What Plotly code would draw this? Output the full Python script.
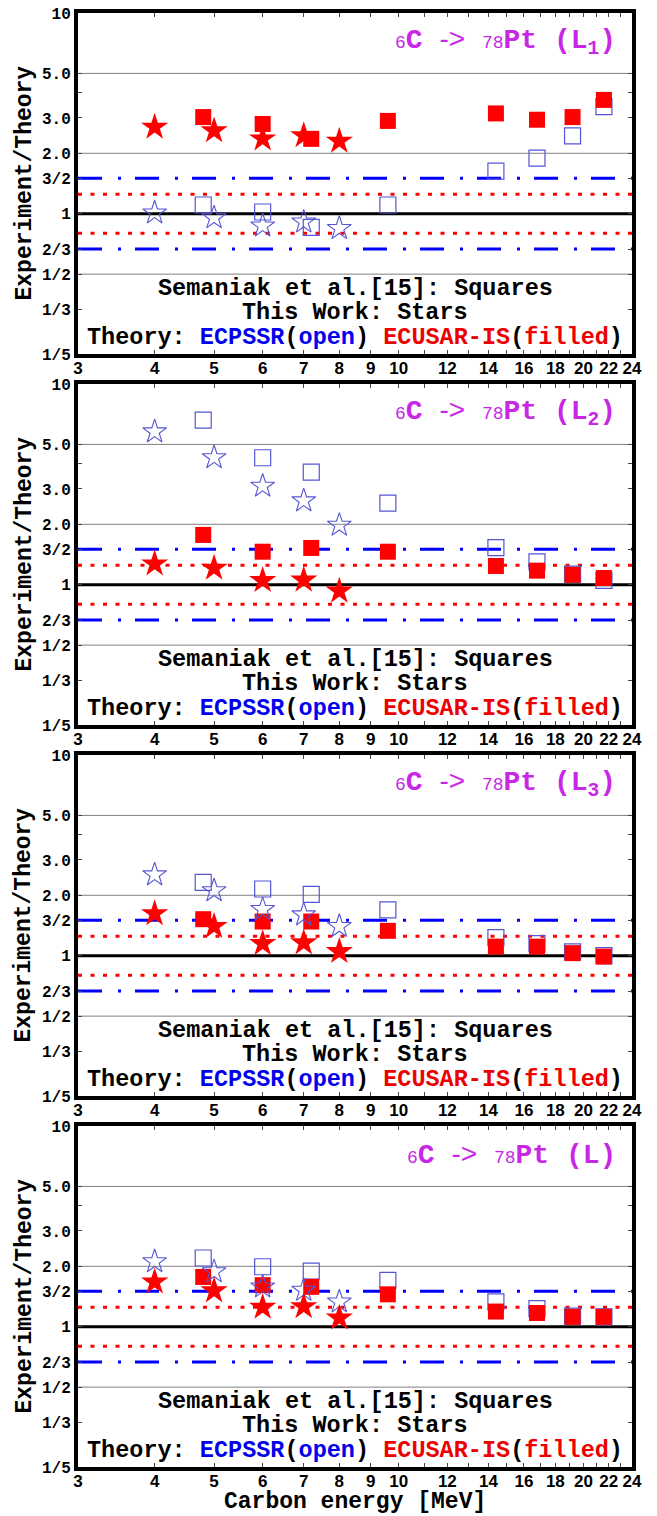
import math
import plotly.graph_objects as go

# ---------------- data ----------------
x_stars = [4, 5, 6, 7, 8]
x_squares = [4.8, 6.0, 7.2, 9.6, 14.4, 16.8, 19.2, 21.6]

panel_labels = ["L<sub>1</sub>", "L<sub>2</sub>", "L<sub>3</sub>", "L"]

# This work (stars) / theory
stars_ecpssr_L1 = [1.01, 0.955, 0.87, 0.91, 0.845]
stars_ecusar_L1 = [2.70, 2.59, 2.36, 2.45, 2.30]
sq_ecpssr_L1 = [1.105, 1.02, 0.855, 1.105, 1.63, 1.89, 2.44, 3.42]
sq_ecusar_L1 = [3.03, 2.80, 2.36, 2.90, 3.16, 2.94, 3.03, 3.69]

stars_ecpssr_L2 = [5.78, 4.30, 3.10, 2.62, 1.98]
stars_ecusar_L2 = [1.27, 1.21, 1.05, 1.055, 0.93]
sq_ecpssr_L2 = [6.60, 4.29, 3.64, 2.55, 1.53, 1.30, 1.13, 1.05]
sq_ecusar_L2 = [1.77, 1.46, 1.525, 1.46, 1.24, 1.175, 1.12, 1.08]

stars_ecpssr_L3 = [2.53, 2.11, 1.70, 1.60, 1.40]
stars_ecusar_L3 = [1.62, 1.40, 1.15, 1.16, 1.05]
sq_ecpssr_L3 = [2.32, 2.15, 2.02, 1.69, 1.23, 1.15, 1.045, 1.00]
sq_ecusar_L3 = [1.52, 1.48, 1.48, 1.33, 1.11, 1.11, 1.03, 0.99]

stars_ecpssr_L = [2.11, 1.88, 1.58, 1.52, 1.33]
stars_ecusar_L = [1.67, 1.51, 1.25, 1.26, 1.105]
sq_ecpssr_L = [2.20, 1.99, 1.89, 1.70, 1.33, 1.23, 1.13, 1.12]
sq_ecusar_L = [1.77, 1.61, 1.58, 1.45, 1.19, 1.17, 1.12, 1.12]

panels = [
    (stars_ecpssr_L1, stars_ecusar_L1, sq_ecpssr_L1, sq_ecusar_L1),
    (stars_ecpssr_L2, stars_ecusar_L2, sq_ecpssr_L2, sq_ecusar_L2),
    (stars_ecpssr_L3, stars_ecusar_L3, sq_ecpssr_L3, sq_ecusar_L3),
    (stars_ecpssr_L, stars_ecusar_L, sq_ecpssr_L, sq_ecusar_L),
]

y_tickvals = [0.2, 1 / 3, 0.5, 2 / 3, 1, 1.5, 2, 3, 4, 5, 10]
y_ticktext = ["1/5", "1/3", "1/2", "2/3", "1", "3/2", "2.0", "3.0", "", "5.0", "10"]
x_tickvals = list(range(3, 25))
x_labeled = [3, 4, 5, 6, 7, 8, 9, 10, 12, 14, 16, 18, 20, 22, 24]
x_ticktext = [str(v) if v in x_labeled else "" for v in x_tickvals]

grid_vals = [5, 2, 0.5]
ecusar_band = [1.25, 0.8]
ecpssr_band = [1.5, 2 / 3]

# ---------------- style ----------------
# page body has an 8px margin; the figure is sized/offset to compensate
OFF = 8
W, H = 657 - OFF, 1516 - OFF
ML, MR, MT, MB = 78 - OFF, 25, 13 - OFF, 49
PH = H - MT - MB
panel_tops = [13, 384, 755, 1126]   # page pixels
panel_h = 341

RED = "#ff0000"
BLUE_OPEN = "#5555d5"
BLUE_LINE = "#0000ff"
MAGENTA = "rgb(200,40,230)"
MONO = "Liberation Mono, Courier New, monospace"

fig = go.Figure()
layout = dict(
    width=W, height=H,
    margin=dict(l=ML, r=MR, t=MT, b=MB, autoexpand=False),
    paper_bgcolor="white", plot_bgcolor="white",
    showlegend=False,
)
annotations = []
PW = W - ML - MR

for i, (st_e, st_u, sq_e, sq_u) in enumerate(panels):
    n = "" if i == 0 else str(i + 1)
    xr, yr = "x" + n, "y" + n
    top = panel_tops[i] - OFF
    bot = top + panel_h
    dom = [(H - MB - bot) / PH, (H - MB - top) / PH]

    layout["xaxis" + n] = dict(
        type="log", range=[math.log10(3), math.log10(24)], domain=[0, 1],
        anchor=yr, tickvals=x_tickvals, ticktext=x_ticktext,
        ticks="inside", ticklen=4, tickwidth=1, tickcolor="#444",
        mirror="allticks", showline=True, linewidth=4, linecolor="black",
        showgrid=False, zeroline=False, ticklabelstandoff=-4,
        tickfont=dict(family="Liberation Sans Narrow, Liberation Sans, Arial", size=17,
                      color="black", weight="bold"),
    )
    layout["yaxis" + n] = dict(
        type="log", range=[math.log10(0.2), 1], domain=dom,
        anchor=xr, tickvals=y_tickvals, ticktext=y_ticktext,
        ticks="inside", ticklen=4, tickwidth=1, tickcolor="#444",
        mirror="allticks", showline=True, linewidth=4, linecolor="black",
        showgrid=False, zeroline=False, ticklabeloverflow="allow",
        tickfont=dict(family=MONO, size=16, color="black", weight="bold"),
    )

    # reference lines
    for gv in grid_vals:
        fig.add_trace(go.Scatter(x=[3, 24], y=[gv, gv], mode="lines", xaxis=xr, yaxis=yr,
                                 line=dict(color="#808080", width=1), hoverinfo="skip"))
    for bv in ecusar_band:
        fig.add_trace(go.Scatter(x=[3, 24], y=[bv, bv], mode="lines", xaxis=xr, yaxis=yr,
                                 line=dict(color=RED, width=3, dash="4px,8.5px"), hoverinfo="skip"))
    for bv in ecpssr_band:
        fig.add_trace(go.Scatter(x=[3, 24], y=[bv, bv], mode="lines", xaxis=xr, yaxis=yr,
                                 line=dict(color=BLUE_LINE, width=3, dash="24px,16px,3px,14px"),
                                 hoverinfo="skip"))
    fig.add_trace(go.Scatter(x=[3, 24], y=[1, 1], mode="lines", xaxis=xr, yaxis=yr,
                             line=dict(color="black", width=3), hoverinfo="skip"))

    # markers
    fig.add_trace(go.Scatter(x=x_squares, y=sq_e, mode="markers", xaxis=xr, yaxis=yr,
                             marker=dict(symbol="square-open", size=16, color=BLUE_OPEN,
                                         line=dict(width=1.2, color=BLUE_OPEN))))
    fig.add_trace(go.Scatter(x=x_squares, y=sq_u, mode="markers", xaxis=xr, yaxis=yr,
                             marker=dict(symbol="square", size=16, color=RED,
                                         line=dict(width=0))))
    fig.add_trace(go.Scatter(x=x_stars, y=st_e, mode="markers", xaxis=xr, yaxis=yr,
                             marker=dict(symbol="star-open", size=18, color=BLUE_OPEN,
                                         line=dict(width=1.1, color=BLUE_OPEN))))
    fig.add_trace(go.Scatter(x=x_stars, y=st_u, mode="markers", xaxis=xr, yaxis=yr,
                             marker=dict(symbol="star", size=20.5, color=RED,
                                         line=dict(width=0))))

    # panel title
    title = (f"<span style='font-size:18px'>6</span><b>C</b> "
             f"<span style='font-family:Liberation Sans'>-&gt;</span> "
             f"<span style='font-size:18px'>78</span><b>Pt</b> <b>({panel_labels[i]})</b>")
    annotations.append(dict(
        text=title, xref=xr + " domain", yref=yr + " domain", x=0.975, y=0.915,
        xanchor="right", yanchor="middle", showarrow=False,
        font=dict(family=MONO, size=28, color=MAGENTA),
    ))
    # legend-like texts
    lines = [
        ("<b>Semaniak et al.[15]: Squares</b>", 0.1935),
        ("<b>This Work: Stars</b>", 0.123),
        ("<b>Theory: <span style='color:#0000ee'>ECPSSR</span>(<span style='color:#0000ee'>open</span>) "
         "<span style='color:#ee0000'>ECUSAR-IS</span>(<span style='color:#ee0000'>filled</span>)</b>", 0.047),
    ]
    for txt, yy in lines:
        annotations.append(dict(
            text=txt, xref=xr + " domain", yref=yr + " domain", x=0.5, y=yy,
            xanchor="center", yanchor="middle", showarrow=False,
            font=dict(family=MONO, size=23.5, color="black"),
        ))
    # y title
    annotations.append(dict(
        text="<b>Experiment/Theory</b>", xref="paper", yref=yr + " domain",
        x=(24 - 78) / PW, y=0.5, xanchor="center", yanchor="middle",
        textangle=-90, showarrow=False,
        font=dict(family=MONO, size=23, color="black"),
    ))

annotations.append(dict(
    text="<b>Carbon energy [MeV]</b>", xref="paper", yref="paper",
    x=(355 - 78) / PW, y=(1467 - 1502) / PH,
    xanchor="center", yanchor="middle", showarrow=False,
    font=dict(family=MONO, size=23, color="black"),
))

layout["annotations"] = annotations
fig.update_layout(**layout)
fig.write_html("out.html")
